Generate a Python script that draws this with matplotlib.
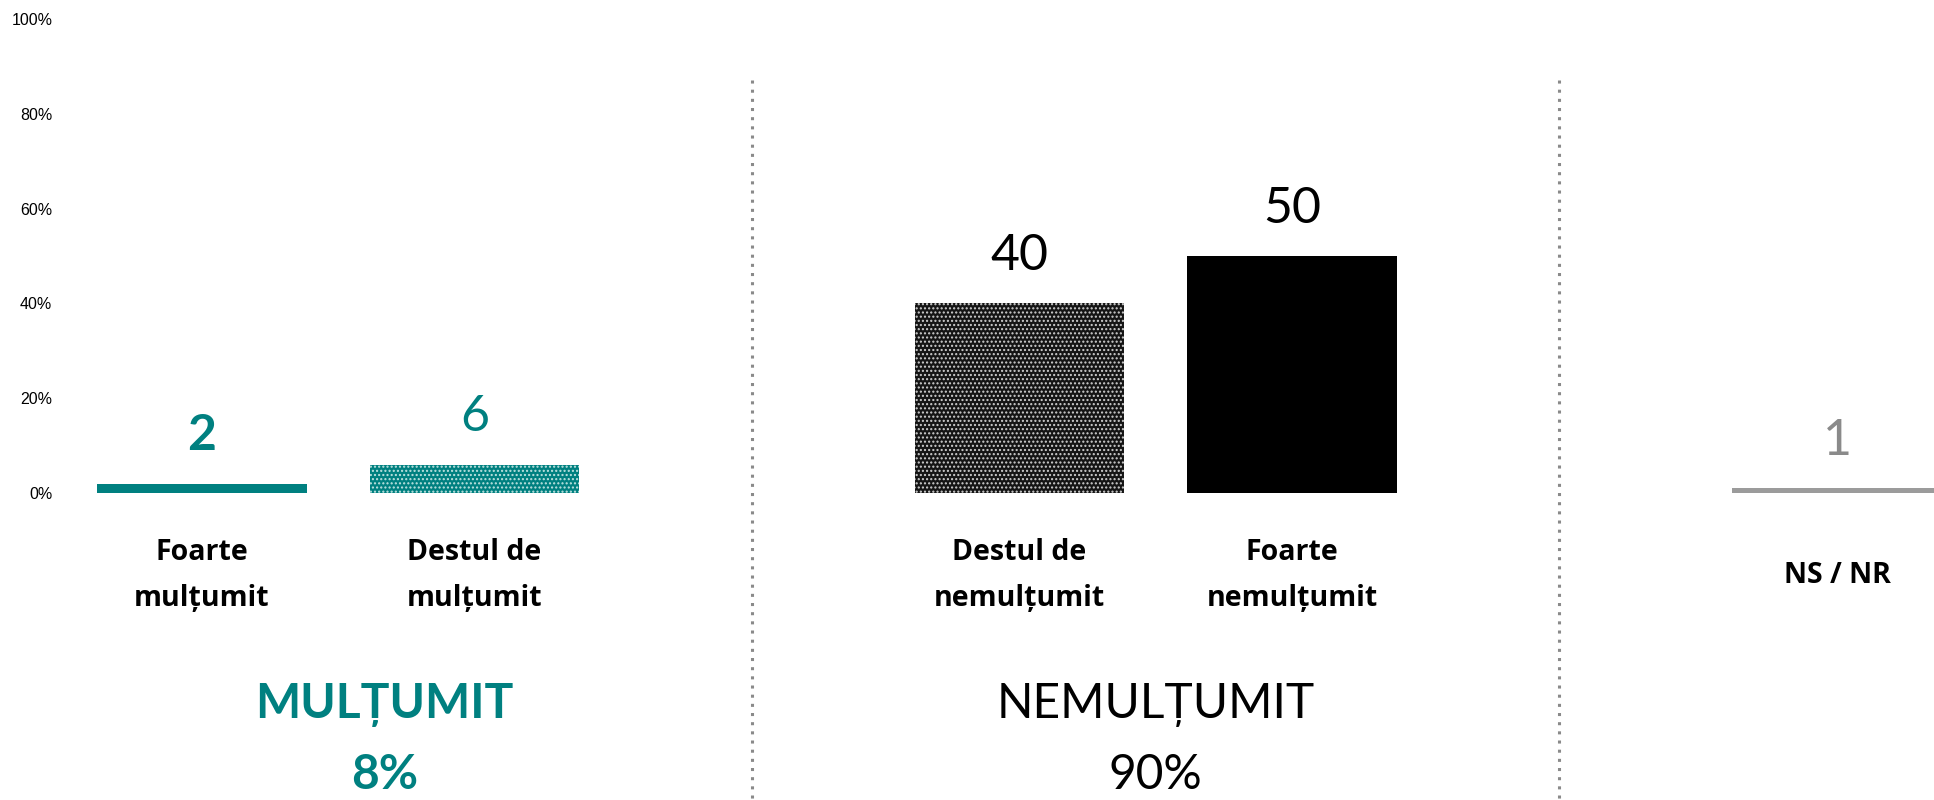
import matplotlib.pyplot as plt
import matplotlib.transforms as mtransforms

# ------------------------------------------------------------------
# DATA
# ------------------------------------------------------------------
categories = ["Foarte\nmulțumit", "Destul de\nmulțumit",
              "Destul de\nnemulțumit", "Foarte\nnemulțumit", "NS / NR"]
values = [2, 6, 40, 50, 1]
positions = [0, 1, 3, 4, 6]

groups = ["MULȚUMIT", "NEMULȚUMIT"]
group_totals = [8, 90]
group_x = [0.67, 3.5]
separators = [2.02, 4.98]

yticks = [0, 20, 40, 60, 80, 100]

TEAL = "#008080"
GREY = "#9b9b9b"

# ------------------------------------------------------------------
# STYLE PER BAR
# ------------------------------------------------------------------
face = [TEAL, TEAL, "#151515", "#000000", GREY]
hatch_col = [TEAL, "#bfe3e0", "#d0d0d0", "#000000", GREY]
hatches = [None, "....", "....", None, None]
label_col = [TEAL, TEAL, "#000000", "#000000", "#8a8a8a"]
label_weight = ["bold", "normal", "normal", "normal", "normal"]

CAL = ["Lato", "DejaVu Sans"]
CAT = ["Open Sans", "DejaVu Sans"]

fig = plt.figure(figsize=(19.34, 8), dpi=100)
ax = fig.add_axes([62 / 1934, 307 / 800, (1934 - 62) / 1934, 474 / 800])

for x, v, fc, hc, h in zip(positions, values, face, hatch_col, hatches):
    ax.bar(x, v, width=0.77, color=fc, edgecolor=hc, linewidth=0, hatch=h)

for x, v, c, w in zip(positions, values, label_col, label_weight):
    ax.annotate(str(v), (x, v), xytext=(0, 24), textcoords="offset points",
                ha="center", va="baseline", fontsize=36, color=c,
                fontweight=w, family=CAL)

ax.set_xlim(-0.514, 6.356)
ax.set_ylim(0, 100)
ax.set_yticks(yticks)
ax.set_yticklabels([f"{t}%" for t in yticks], family="Liberation Sans", fontsize=11.5)
ax.tick_params(axis="y", length=0, pad=7)
ax.set_xticks([])
for s in ax.spines.values():
    s.set_visible(False)

# category labels under bars
for x, lab in zip(positions, categories):
    ax.text(x, -17.4, lab, ha="center", va="center", fontsize=20.5,
            fontweight="bold", family=CAT, linespacing=1.75, clip_on=False)

# group titles + totals
colors_g = [TEAL, "#000000"]
weights_g = ["bold", "normal"]
for gx, name, tot, c, w in zip(group_x, groups, group_totals, colors_g, weights_g):
    ax.text(gx, -44.8, name, ha="center", va="center", fontsize=34.5,
            color=c, fontweight=w, family=CAL, clip_on=False)
    ax.text(gx, -59.5, f"{tot}%", ha="center", va="center", fontsize=34.5,
            color=c, fontweight=w, family=CAL, clip_on=False)

# dotted separators running down to the bottom edge
trans = mtransforms.blended_transform_factory(ax.transData, fig.transFigure)
for sx in separators:
    ax.plot([sx, sx], [1 - 80 / 800, 0], transform=trans, color="#8a8a8a",
            linestyle=(0, (1, 2.0)), linewidth=2.2, clip_on=False)

fig.savefig("out.png", dpi=100)
